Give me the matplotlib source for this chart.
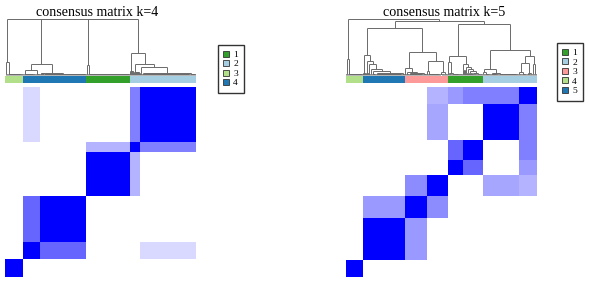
import numpy as np
import matplotlib
matplotlib.use("Agg")
import matplotlib.pyplot as plt
from matplotlib.colors import LinearSegmentedColormap, ListedColormap
from matplotlib.collections import LineCollection
from matplotlib.patches import Patch

N = 190
W, H = 590, 285

# ---------------- data ----------------
k4_title = "consensus matrix k=4"
k5_title = "consensus matrix k=5"

k4_palette = ["#33A02C", "#A6CEE3", "#B2DF8A", "#1F78B4"]
k5_palette = ["#33A02C", "#A6CEE3", "#FB9A99", "#B2DF8A", "#1F78B4"]
k4_labels = ["1", "2", "3", "4"]
k5_labels = ["1", "2", "3", "4", "5"]

# cluster order along the axis and cluster sizes
k4_order = [3, 4, 1, 2]
k4_sizes = [18, 63, 43, 66]
k5_order = [4, 5, 3, 1, 2]
k5_sizes = [17, 42, 42, 35, 54]

# consensus sub-groups (sizes) and between-group consensus values
k4_sub_sizes = [18, 17, 46, 43, 10, 56]
k4_block = [
    [1.00, 0.00, 0.00, 0.00, 0.00, 0.00],
    [0.00, 1.00, 0.60, 0.00, 0.00, 0.15],
    [0.00, 0.60, 1.00, 0.00, 0.00, 0.00],
    [0.00, 0.00, 0.00, 1.00, 0.30, 0.00],
    [0.00, 0.00, 0.00, 0.30, 1.00, 0.50],
    [0.00, 0.15, 0.00, 0.00, 0.50, 1.00],
]
k5_sub_sizes = [17, 42, 22, 20, 15, 20, 36, 18]
k5_block = [
    [1.00, 0.00, 0.00, 0.00, 0.00, 0.00, 0.00, 0.00],
    [0.00, 1.00, 0.40, 0.00, 0.00, 0.00, 0.00, 0.00],
    [0.00, 0.40, 1.00, 0.45, 0.00, 0.00, 0.00, 0.00],
    [0.00, 0.00, 0.45, 1.00, 0.00, 0.00, 0.35, 0.30],
    [0.00, 0.00, 0.00, 0.00, 1.00, 0.60, 0.00, 0.40],
    [0.00, 0.00, 0.00, 0.00, 0.60, 1.00, 0.00, 0.50],
    [0.00, 0.00, 0.00, 0.35, 0.00, 0.00, 1.00, 0.50],
    [0.00, 0.00, 0.00, 0.30, 0.40, 0.50, 0.50, 1.00],
]

# dendrograms: (height, left, right) nodes; (n, height) = chain of n samples
k4_tree = (1.00,
           (0.23, (2, 0.02), (16, 0.01)),
           (0.995,
            (0.20,
             (0.09, (12, 0.02), (5, 0.02)),
             (0.04, (3, 0.03), (0.02, (37, 0.01), (6, 0.01)))),
            (0.99,
             (0.17, (1, 0.0), (42, 0.02)),
             (0.39, (4, 0.07),
              (0.20, (6, 0.05),
               (0.14, (2, 0.03), (0.04, (48, 0.01), (6, 0.02))))))))

k5_tree = (1.00,
           (0.29, (2, 0.02), (15, 0.02)),
           (0.96,
            (0.83,
             (0.35, (3, 0.03),
              (0.25, (3, 0.03),
               (0.19, (1, 0.0),
                (0.11, (2, 0.02),
                 (0.07, (4, 0.02),
                  (0.04, (26, 0.01), (3, 0.02))))))),
             (0.41,
              (0.13, (1, 0.0), (0.06, (3, 0.02), (0.03, (14, 0.02), (4, 0.02)))),
              (0.25, (0.07, (1, 0.0), (12, 0.02)), (0.05, (4, 0.02), (3, 0.02))))),
            (0.91,
             (0.33,
              (0.23, (1, 0.0), (0.03, (3, 0.02), (11, 0.02))),
              (0.20, (3, 0.08),
               (0.15, (2, 0.03),
                (0.11, (2, 0.03),
                 (0.07, (3, 0.03), (0.04, (4, 0.02), (6, 0.02))))))),
             (0.45,
              (0.11, (0.06, (2, 0.02), (6, 0.02)), (0.03, (8, 0.02), (20, 0.02))),
              (0.33,
               (0.21, (0.05, (3, 0.02), (5, 0.02)), (0.04, (4, 0.02), (2, 0.02))),
               (0.20, (2, 0.02), (2, 0.02)))))))

# ---------------- helpers ----------------
cmap = LinearSegmentedColormap.from_list("wb", ["#FFFFFF", "#0000FF"])


def layout(node, start, segs):
    if len(node) == 2:
        n, h = node
        idx = start + np.arange(n) + 0.5
        pos, top = idx[-1], 0.0
        for k in range(n - 2, -1, -1):
            segs.append([(idx[k], 0.0), (idx[k], h)])
            segs.append([(pos, top), (pos, h)])
            segs.append([(idx[k], h), (pos, h)])
            pos, top = (idx[k] + pos) / 2.0, h
        return pos, top, n
    h, L, R = node
    pl, hl, nl = layout(L, start, segs)
    pr, hr, nr = layout(R, start + nl, segs)
    segs.append([(pl, hl), (pl, h)])
    segs.append([(pr, hr), (pr, h)])
    segs.append([(pl, h), (pr, h)])
    return (pl + pr) / 2.0, h, nl + nr


def fig_axes(fig, x0, y0, x1, y1):
    return fig.add_axes([x0 / W, 1 - y1 / H, (x1 - x0) / W, (y1 - y0) / H])


def panel(fig, x0, x1, title, title_x, tree, order, sizes, palette,
          sub_sizes, block, labels, leg_x, leg_y):
    # dendrogram
    ax_d = fig_axes(fig, x0, 18.5, x1, 75.0)
    segs = []
    layout(tree, 0, segs)
    ax_d.add_collection(LineCollection(segs, colors="#6a6a6a",
                                       linewidths=0.7, clip_on=False))
    ax_d.set_xlim(0, N)
    ax_d.set_ylim(0, 1.0)
    ax_d.axis("off")

    # cluster colour bar
    ax_c = fig_axes(fig, x0, 76.0, x1, 83.3)
    lab = np.repeat(np.array(order) - 1, sizes)
    ax_c.imshow(lab[None, :], aspect="auto", cmap=ListedColormap(palette),
                vmin=-0.5, vmax=len(palette) - 0.5, interpolation="nearest",
                extent=(0, N, 0, 1))
    ax_c.axis("off")

    # consensus matrix
    ax_m = fig_axes(fig, x0, 86.8, x1, 277.0)
    g = np.repeat(np.arange(len(sub_sizes)), sub_sizes)
    B = np.array(block)
    M = B[g[:, None], g[None, :]]
    ax_m.imshow(M, origin="lower", cmap=cmap, vmin=0, vmax=1, aspect="auto",
                interpolation="nearest", extent=(0, N, 0, N))
    ax_m.axis("off")

    fig.text(title_x / W, 1 - 16.5 / H, title, ha="center", va="baseline",
             fontsize=10.1, family="Liberation Serif")

    handles = [Patch(facecolor=c, edgecolor="#333333", linewidth=0.6)
               for c in palette]
    fig.legend(handles, labels, loc="upper left",
               bbox_to_anchor=(leg_x / W, 1 - leg_y / H),
               prop={"family": "Liberation Serif", "size": 6.8},
               frameon=True, fancybox=False, edgecolor="#333333",
               framealpha=1, handlelength=0.6, handleheight=0.6,
               handletextpad=0.45, labelspacing=0.12, borderpad=0.6,
               borderaxespad=0)


fig = plt.figure(figsize=(W / 100, H / 100), dpi=100)
fig.patch.set_facecolor("white")

panel(fig, 5.0, 196.0, k4_title, 97.5, k4_tree, k4_order, k4_sizes,
      k4_palette, k4_sub_sizes, k4_block, k4_labels, 217.7, 45.0)
panel(fig, 345.7, 536.3, k5_title, 444.0, k5_tree, k5_order, k5_sizes,
      k5_palette, k5_sub_sizes, k5_block, k5_labels, 556.7, 43.3)

fig.savefig("out.png", dpi=100, facecolor="white")
